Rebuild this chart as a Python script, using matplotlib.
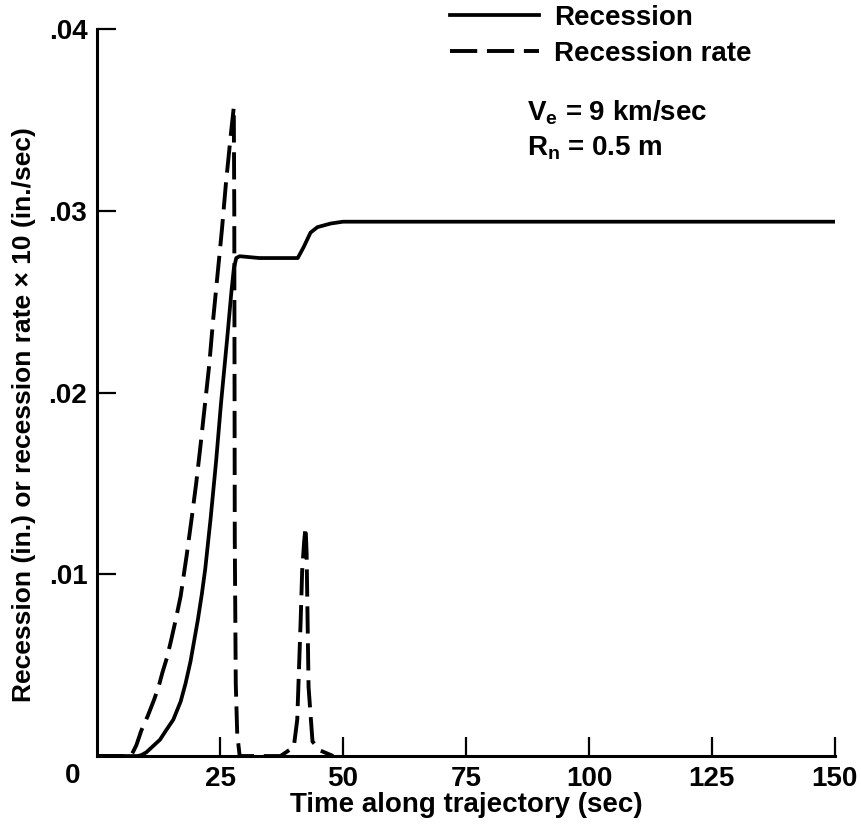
import matplotlib
matplotlib.use("Agg")
from matplotlib import pyplot as plt
from matplotlib.lines import Line2D

plt.rcParams['font.family'] = ['Liberation Sans', 'DejaVu Sans']
plt.rcParams['font.weight'] = 'bold'
plt.rcParams['axes.labelweight'] = 'bold'
plt.rcParams['mathtext.fontset'] = 'custom'
plt.rcParams['mathtext.rm'] = 'Liberation Sans:bold'
plt.rcParams['mathtext.it'] = 'Liberation Sans:bold'
plt.rcParams['mathtext.bf'] = 'Liberation Sans:bold'

# recession (in.)
rec_t = [0, 8.3, 9.0, 10.0, 11.6, 12.8, 14.0, 15.5, 17.0, 18.0, 19.0, 20.5, 21.3, 22.0,
         23.1, 24.2, 25.2, 26.5, 27.3, 27.8, 28.3, 29.0, 33.0, 38.0, 40.8, 42.0, 43.4,
         44.8, 47.5, 50.0, 150.0]
rec_v = [0, 0, 0.00005, 0.0002, 0.0006, 0.0009, 0.0014, 0.0020, 0.0030, 0.0040, 0.0052,
         0.0075, 0.0089, 0.0103, 0.0131, 0.0162, 0.0194, 0.0231, 0.0255, 0.0268, 0.0274,
         0.0275, 0.0274, 0.0274, 0.0274, 0.0280, 0.0288, 0.0291, 0.0293, 0.0294, 0.0294]

# recession rate x 10 (in./sec)
rate_t = [0, 6.9, 8.0, 9.0, 10.3, 11.6, 12.5, 13.3, 14.2, 15.0, 16.0, 17.0, 18.2, 19.3,
          20.2, 21.0, 22.8, 23.6, 24.5, 25.4, 26.2, 27.2, 27.8, 27.9, 28.0, 28.2, 28.5,
          29.0, 37.3, 40.0, 40.7, 41.4, 41.7, 42.1, 42.4, 42.6, 42.8, 43.0, 43.8, 45.4,
          48.0]
rate_v = [0, 0, 0.0006, 0.0014, 0.0022, 0.0031, 0.0038, 0.0046, 0.0054, 0.0063, 0.0075,
          0.0088, 0.0110, 0.0132, 0.0151, 0.0170, 0.0215, 0.0240, 0.0265, 0.0290, 0.0315,
          0.0342, 0.0357, 0.030, 0.012, 0.004, 0.0012, 0, 0, 0.0005, 0.0020, 0.0075,
          0.0102, 0.0118, 0.0126, 0.0112, 0.0075, 0.0038, 0.0008, 0.0003, 0]

xticks = [25, 50, 75, 100, 125, 150]
xticklabels = ['25', '50', '75', '100', '125', '150']
yticks = [0.01, 0.02, 0.03, 0.04]
yticklabels = ['.01', '.02', '.03', '.04']

fig = plt.figure(figsize=(8.61, 8.32), dpi=100)
ax = fig.add_axes([0.1127, 0.0913, 0.857, 0.8738])

ax.plot(rec_t, rec_v, color='k', lw=2.7, solid_joinstyle='round')
ax.plot(rate_t, rate_v, color='k', lw=2.8, dashes=(7, 2.5))

ax.set_xlim(0, 150)
ax.set_ylim(0, 0.04)
ax.set_xticks(xticks)
ax.set_xticklabels(xticklabels)
ax.set_yticks(yticks)
ax.set_yticklabels(yticklabels)
ax.tick_params(direction='in', length=14, width=1.6, labelsize=20, pad=7)
for s in ['top', 'right']:
    ax.spines[s].set_visible(False)
for s in ['left', 'bottom']:
    ax.spines[s].set_linewidth(2.2)

ax.text(-0.033, -0.01, '0', transform=ax.transAxes, fontsize=20,
        ha='center', va='top')

ax.set_xlabel('Time along trajectory (sec)', fontsize=20, labelpad=0)
ax.set_ylabel('Recession (in.) or recession rate \u00d7 10 (in./sec)', fontsize=19)
ax.yaxis.set_label_coords(-0.083, 0.47)

handles = [Line2D([], [], color='k', lw=2.7),
           Line2D([], [], color='k', lw=2.8, dashes=(7, 2.5))]
fig.legend(handles, ['Recession', 'Recession rate'], loc='upper left',
           bbox_to_anchor=(450 / 861, 1 - 5 / 832), frameon=False, fontsize=20,
           handlelength=3.2, handletextpad=0.55, labelspacing=0.35, borderpad=0,
           borderaxespad=0)

fig.text(527 / 861, 1 - 113 / 832, 'V$_\\mathrm{e}$ = 9 km/sec', fontsize=20, va='center')
fig.text(527 / 861, 1 - 148 / 832, 'R$_\\mathrm{n}$ = 0.5 m', fontsize=20, va='center')

fig.savefig('out.png', dpi=100)
